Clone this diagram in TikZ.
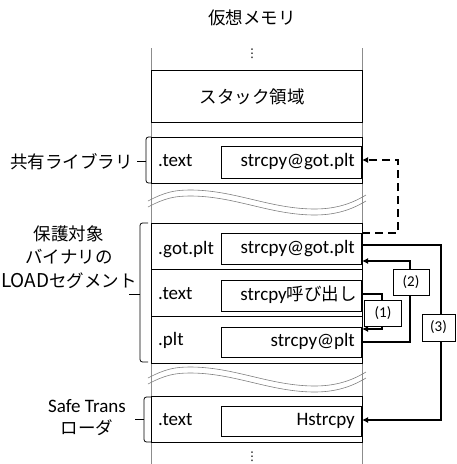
\documentclass[tikz,border=0pt]{standalone}
\usepackage{fontspec}
\setmainfont{Carlito}
\newfontfamily\jp{Noto Sans CJK JP}
\newfontfamily\symb{DejaVu Sans}
\usetikzlibrary{arrows.meta}

\begin{document}
\begin{tikzpicture}[x=1pt,y=-1pt,
  lat/.style={font=\fontsize{19}{23}\selectfont, inner sep=0pt, text height=13pt, text depth=4pt},
  jap/.style={font=\fontsize{17.5}{23}\jp, inner sep=0pt, text height=15pt, text depth=2.5pt, align=center},
  tag/.style={draw, line width=0.8pt, fill=white, minimum width=37pt, minimum height=26pt,
              inner sep=0pt, font=\fontsize{15}{18}\selectfont},
  seg/.style={draw, line width=1pt},
  cell/.style={draw, line width=0.9pt},
  col/.style={black!45, line width=0.7pt},
  wave/.style={black!50, line width=0.6pt},
  brace/.style={line width=0.8pt, rounded corners=2.5pt},
  flow/.style={line width=2pt, -{Latex[length=6pt,width=6pt]}},
  jump/.style={flow, dash pattern=on 8pt off 5pt},
  ell/.style={font=\fontsize{12}{12}\symb, inner sep=0pt}]
\useasboundingbox (0,0) rectangle (456,464);

% memory column edges
\draw[col] (151,48) -- (151,464);
\draw[col] (362,48) -- (362,464);

% title and ellipses
\node[jap] (title) at (252,18) {仮想メモリ};
\node[ell] (dtop) at (252,54) {⋮};
\node[ell] (dbot) at (252,457) {⋮};

% stack area
\node[seg, minimum width=211pt, minimum height=52pt, inner sep=0pt] (stack) at (256.5,96) {};
\node[jap] (stacktxt) at (252,97) {スタック領域};

% shared library
\draw[seg, fill=white] (151,137) rectangle (362,183);
\node[cell, anchor=north east, minimum width=140pt, minimum height=32pt, inner sep=0pt] (libgot) at (362,146) {};
\node[lat, anchor=east] at (355,162) {strcpy@got.plt};
\node[lat, anchor=west] (libtext) at (158,162) {.text};

% break marks
\foreach \dy in {0,177} {
  \begin{scope}[yshift=-\dy pt]
    \draw[wave] (148,201) .. controls (165,192) and (175,190) .. (190,190)
       .. controls (235,190) and (270,209) .. (315,209)
       .. controls (340,209) and (356,201) .. (366,195);
    \draw[wave] (148,207) .. controls (165,198) and (175,196) .. (190,196)
       .. controls (235,196) and (270,215) .. (315,215)
       .. controls (340,215) and (356,207) .. (366,201);
  \end{scope}
}

% protected binary LOAD segment
\draw[seg, fill=white] (151,223) rectangle (362,363);
\draw[seg] (151,269) -- (362,269);
\draw[seg] (151,316) -- (362,316);
\node[cell, anchor=north east, minimum width=140pt, minimum height=31pt, inner sep=0pt] (got) at (362,233) {};
\node[cell, anchor=north east, minimum width=140pt, minimum height=31pt, inner sep=0pt] (call) at (362,280) {};
\node[cell, anchor=north east, minimum width=140pt, minimum height=30pt, inner sep=0pt] (plt) at (362,327) {};
\node[lat, anchor=east] at (355,248.5) {strcpy@got.plt};
\node[lat, anchor=east] at (357,295.5) {strcpy{\fontsize{17.5}{23}\jp 呼び出し}};
\node[lat, anchor=east] at (355,342) {strcpy@plt};
\node[lat, anchor=west] at (158,249.5) {.got.plt};
\node[lat, anchor=west] at (158,295) {.text};
\node[lat, anchor=west] at (158,341) {.plt};

% Safe Trans loader
\draw[seg, fill=white] (151,396) rectangle (362,442);
\node[cell, anchor=north east, minimum width=140pt, minimum height=30pt, inner sep=0pt] (hst) at (362,406) {};
\node[lat, anchor=east] at (355,421) {Hstrcpy};
\node[lat, anchor=west] at (158,421) {.text};

% region labels and braces
\node[jap, anchor=east] (liblbl) at (133,162) {共有ライブラリ};
\draw[brace] (151,137) -- (146,137) -- (146,183) -- (151,183);
\draw[line width=0.8pt] (146,161) -- (137,161);

\node[jap, font=\fontsize{17.5}{23.5}\jp, anchor=center] (binlbl) at (69,281)
  {保護対象\\バイナリの\\{\fontsize{19}{23}\selectfont LOAD}セグメント};
\draw[brace] (148,223) -- (140,223) -- (140,362) -- (148,362);
\draw[line width=0.8pt] (140,294) -- (129,294);

\node[lat, align=center] (ldrlbl) at (87,408) {Safe Trans};
\node[jap] at (87,428) {ローダ};
\draw[brace] (151,397) -- (144,397) -- (144,442) -- (151,442);
\draw[line width=0.8pt] (144,419) -- (135,419);

% control flow
\coordinate (d0) at (362,233);
\coordinate (d1) at (398,233);
\coordinate (d2) at (398,160);
\coordinate (d3) at (362,160);
\draw[jump] (d0) -- (d1) -- (d2) -- (d3);

\draw[flow] (362,245) -- (441,245) -- (441,420) -- (hst.east |- 0,420);
\draw[flow] (362,342) -- (410,342) -- (410,261) -- (got.east |- 0,261);
\draw[flow] (362,294) -- (382,294) -- (382,329) -- (plt.east |- 0,329);

\node[tag] (t1) at (383,313) {(1)};
\node[tag, minimum width=36pt] (t2) at (411,282) {(2)};
\node[tag, minimum width=33pt, minimum height=27pt] (t3) at (438.5,327.5) {(3)};
\end{tikzpicture}
\end{document}
